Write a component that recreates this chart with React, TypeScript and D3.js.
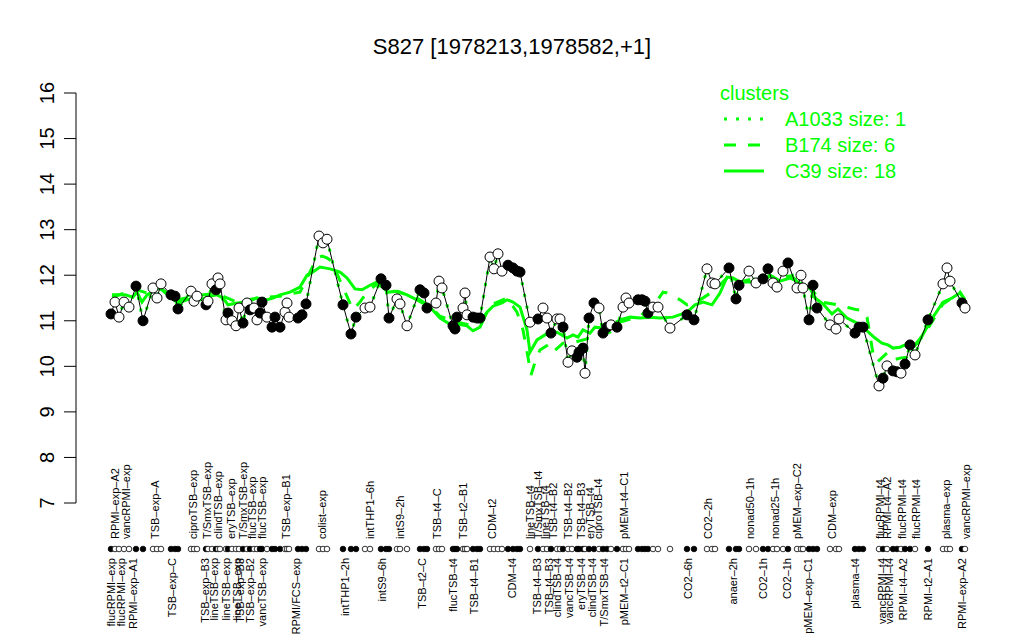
import React from 'react';
import * as d3 from 'd3';

const sampleX = [2.2,3.0,3.8,4.8,5.8,7.2,8.6,10.6,11.4,12.2,14.2,15.0,15.6,18.2,18.8,19.4,21.2,21.6,22.4,23.2,23.6,24.0,25.2,25.6,26.4,27.2,27.8,28.6,29.4,30.0,30.8,31.4,32.0,32.4,33.4,34.4,35.0,36.0,37.0,37.4,37.8,39.6,40.4,41.2,43.8,44.6,45.4,48.6,50.2,51.2,53.0,54.0,56.2,57.2,57.8,59.4,60.0,61.4,64.0,64.8,65.4,67.2,67.8,68.4,70.6,71.0,71.4,72.6,73.0,73.4,74.6,75.4,76.0,78.0,78.8,79.6,80.4,81.6,82.6,83.4,84.0,86.0,87.6,88.6,89.4,90.2,91.4,92.0,92.6,93.6,94.4,95.4,95.8,96.6,97.0,97.8,98.8,99.8,100.6,101.4,102.2,103.4,104.6,105.2,105.8,107.6,108.4,109.0,109.6,110.6,111.6,114.0,117.4,118.8,121.4,122.4,123.0,125.8,127.2,127.8,129.8,131.2,132.6,133.6,134.6,135.4,136.6,137.6,139.4,140.2,140.6,141.8,142.6,143.4,146.0,147.2,147.8,151.0,151.8,152.6,155.8,156.6,157.4,158.6,159.4,160.2,161.0,162.0,163.0,165.6,168.6,169.4,170.0,172.4,173.0];
const sampleY = [11.15,11.41,11.08,11.41,11.30,11.76,11.00,11.72,11.50,11.81,11.57,11.54,11.26,11.65,11.43,11.54,11.35,11.43,11.81,11.68,11.94,11.81,11.02,11.17,11.00,10.89,11.28,10.95,11.39,11.24,11.28,11.02,11.17,11.41,11.08,10.86,11.08,10.86,11.19,11.39,11.08,11.06,11.13,11.37,12.86,12.71,12.79,11.35,10.71,11.08,11.28,11.30,11.92,11.78,11.06,11.48,11.37,10.89,11.68,11.61,11.28,11.39,11.87,11.72,10.89,10.82,11.08,11.28,11.61,11.13,11.08,11.06,11.06,12.40,12.14,12.47,12.09,12.22,12.16,12.09,12.07,10.97,11.04,11.28,11.06,10.73,11.04,11.04,10.86,10.09,10.34,10.20,10.31,10.40,9.85,11.06,11.39,11.28,10.73,10.86,10.91,10.86,11.30,11.50,11.39,11.46,11.46,11.43,11.17,11.30,11.30,10.84,11.13,11.02,12.14,11.83,11.81,12.16,11.48,11.78,12.09,11.83,11.92,12.14,11.83,11.74,12.09,12.27,11.72,12.00,11.72,11.02,11.78,11.28,10.91,10.82,11.04,10.73,10.86,10.86,9.57,9.74,10.01,9.90,9.88,9.85,10.05,10.47,10.25,11.02,11.81,12.16,11.87,11.39,11.28];
const sampleFilled = [1,0,0,0,0,1,1,0,0,0,1,1,1,0,0,0,1,0,0,1,0,0,0,1,0,0,0,1,0,1,0,0,1,1,0,1,1,1,0,0,0,1,1,1,0,0,0,1,1,1,0,0,1,1,1,0,0,0,1,1,1,0,0,0,1,1,1,0,0,0,1,1,1,0,0,0,0,1,1,1,1,0,1,0,0,1,0,0,1,0,0,1,1,1,0,1,1,0,1,1,0,1,0,0,0,1,1,1,1,0,0,0,1,1,0,0,0,1,1,1,0,0,1,1,0,0,0,1,0,0,0,1,1,1,0,0,0,1,1,1,0,1,0,1,1,0,1,1,0,1,0,0,0,1,0];

const c39X = [2.4,5.0,6.6,7.4,8.4,9.4,10.4,11.4,12.4,14.0,15.6,17.4,18.6,20.0,22.0,23.4,24.6,25.6,27.4,29.4,31.4,33.4,34.6,36.0,38.0,40.0,41.4,42.6,44.0,46.0,48.0,49.4,51.0,52.4,54.0,55.4,57.6,59.6,61.4,63.4,66.0,68.0,69.6,71.4,73.4,74.6,76.0,77.4,78.6,80.4,81.4,82.6,84.0,85.4,86.0,87.4,89.0,90.0,91.4,93.4,94.6,95.6,96.6,98.0,99.0,100.4,102.0,104.0,106.0,108.0,110.0,112.0,114.6,117.4,119.0,120.6,122.4,124.0,125.4,126.6,128.0,130.6,133.4,134.0,136.0,138.0,140.0,142.0,143.0,144.6,146.4,147.6,149.4,151.4,153.4,155.0,156.4,157.6,158.6,160.0,161.0,162.0,163.6,165.4,166.6,168.6,170.4,172.0,173.0];
const c39Y = [11.57,11.57,11.52,11.63,11.41,11.57,11.63,11.72,11.68,11.52,11.39,11.46,11.50,11.46,11.54,11.57,11.50,11.35,11.39,11.41,11.50,11.46,11.50,11.57,11.63,11.74,12.00,12.07,12.18,12.14,12.07,11.94,11.70,11.68,11.78,11.85,11.63,11.65,11.57,11.46,11.30,11.06,10.95,10.93,10.89,10.78,10.86,11.19,11.32,11.39,11.46,11.41,11.30,10.80,10.31,10.58,10.69,10.75,10.75,10.62,10.69,10.64,10.80,10.73,10.86,10.84,10.89,11.02,11.08,11.06,11.08,11.06,11.08,11.19,11.35,11.41,11.35,11.61,11.96,11.94,11.85,11.85,11.94,12.00,11.87,11.94,11.83,11.72,11.50,11.37,11.15,11.26,11.06,10.95,10.78,10.62,10.51,10.47,10.40,10.42,10.47,10.40,10.51,10.86,11.08,11.41,11.50,11.61,11.46];

const b174X = [2.4,5.0,7.4,9.4,11.4,14.0,15.6,18.6,22.0,24.6,27.4,31.4,36.0,40.0,42.0,43.4,44.4,45.4,46.6,47.6,49.0,50.6,52.0,53.4,55.4,57.6,59.6,63.4,66.0,68.0,71.4,74.6,76.0,78.6,81.4,83.4,84.6,85.6,86.2,87.0,88.0,89.6,90.6,92.6,95.0,98.0,100.0,102.0,104.0,108.0,111.0,112.6,113.4,116.0,117.4,120.0,122.4,123.4,125.4,128.0,132.0,138.0,140.0,142.4,144.4,147.6,150.0,151.4,152.6,153.4,154.6,155.4,157.4,158.6,160.0,161.4,163.0,165.4,168.6,170.4,172.0,173.0];
const b174Y = [11.52,11.61,11.68,11.61,11.76,11.57,11.46,11.54,11.59,11.54,11.41,11.50,11.54,11.63,12.07,12.38,12.42,12.38,12.29,11.98,11.63,11.24,11.41,11.63,11.81,11.68,11.63,11.50,11.32,11.10,10.97,10.89,10.97,11.37,11.50,11.19,10.80,10.20,9.81,10.09,10.36,10.47,10.31,10.51,10.53,10.62,10.69,10.75,10.97,11.10,11.37,11.63,11.61,11.46,11.35,11.46,11.63,11.72,11.94,11.85,11.96,11.98,11.85,11.68,11.41,11.35,11.28,11.24,11.24,11.08,10.29,10.09,10.29,10.14,10.18,10.20,10.47,10.80,11.37,11.50,11.63,11.46];

const topLabels = ["RPMI\u2013exp\u2013A2","vancRPMI\u2013exp","TSB\u2013exp\u2013A","ciproTSB\u2013exp","T/SmxTSB\u2013exp","clindTSB\u2013exp","eryTSB\u2013exp","T/SmxTSB\u2013exp","flucTSB\u2013exp","flucTSB\u2013exp","TSB\u2013exp\u2013B1","colist\u2013exp","intTHP1\u20136h","intS9\u20132h","TSB\u2013t4\u2013C","TSB\u2013t2\u2013B1","CDM\u2013t2","lineTSB\u2013t4","T/SmxTSB\u2013t4","lineTSB\u2013t4","TSB\u2013t4\u2013B2","TSB\u2013t4\u2013B2","TSB\u2013t4\u2013B3","eryTSB\u2013t4","ciproTSB\u2013t4","pMEM\u2013t4\u2013C1","CO2\u20132h","nonad50\u20131h","nonad25\u20131h","pMEM\u2013exp\u2013C2","CDM\u2013exp","flucRPMI\u2013t4","RPMI\u2013t4\u2013A2","flucRPMI\u2013t4","flucRPMI\u2013t4","plasma\u2013exp","vancRPMI\u2013exp"];
const topLabelX = [3.0,5.2,11.0,18.6,21.4,23.6,26.2,28.6,30.4,32.4,37.2,44.4,54.0,60.0,67.4,72.6,78.4,86.0,87.6,89.0,90.6,93.6,96.2,98.0,99.6,104.8,121.6,130.0,135.0,139.4,146.4,156.0,157.4,160.4,163.2,169.2,173.2];
const bottomLabels = ["flucRPMI\u2013exp","flucRPMI\u2013exp","RPMI\u2013exp\u2013A1","TSB\u2013exp\u2013C","TSB\u2013exp\u2013B3","lineTSB\u2013exp","lineTSB\u2013exp","lineTSB\u2013exp","TSB\u2013exp\u2013B3","TSB\u2013exp\u2013B2","vancTSB\u2013exp","RPMI/FCS\u2013exp","intTHP1\u20132h","intS9\u20136h","TSB\u2013t2\u2013C","flucTSB\u2013t4","TSB\u2013t4\u2013B1","CDM\u2013t4","TSB\u2013t4\u2013B3","TSB\u2013t4\u2013B3","clindTSB\u2013t4","vancTSB\u2013t4","eryTSB\u2013t4","clindTSB\u2013t4","T/SmxTSB\u2013t4","pMEM\u2013t2\u2013C1","CO2\u20136h","anaer\u20132h","CO2\u20131h","CO2\u20131h","pMEM\u2013exp\u2013C1","plasma\u2013t4","vancRPMI\u2013t4","vancRPMI\u2013t4","RPMI\u2013t4\u2013A2","RPMI\u2013t2\u2013A1","RPMI\u2013exp\u2013A2"];
const bottomLabelX = [2.2,4.2,6.6,14.4,21.0,22.8,25.2,27.4,28.0,30.0,32.4,39.2,49.0,56.4,64.4,70.6,74.8,82.4,87.4,89.8,91.4,93.8,96.2,98.4,100.8,104.8,117.6,126.6,132.6,137.4,141.6,151.0,156.4,157.8,160.6,165.6,172.4];

const yTicks = [7, 8, 9, 10, 11, 12, 13, 14, 15, 16];
const legendTitle = "clusters";
const legendLabels = ["A1033 size: 1", "B174 size: 6", "C39 size: 18"];
const legendDash = ["3 9", "12 12", ""];
const title = "S827 [1978213,1978582,+1]";

const GREEN = "#00ff00";
const FONT = "'Liberation Sans', Arial, Helvetica, sans-serif";

export default function App() {
  const x = d3.scaleLinear().domain([0, 176]).range([100, 980]);
  const y = d3.scaleLinear().domain([7, 16]).range([503, 93]);
  const rowY = 549;

  const line = d3.line<[number, number]>().x(d => x(d[0])).y(d => y(d[1]));
  const data: [number, number][] = sampleX.map((v, i) => [v, sampleY[i]]);
  const c39: [number, number][] = c39X.map((v, i) => [v, c39Y[i]]);
  const b174: [number, number][] = b174X.map((v, i) => [v, b174Y[i]]);

  return (
    <svg width={1024} height={640} style={{ position: 'absolute', left: 0, top: 0, background: '#fff' }} fontFamily={FONT}>
      <rect width={1024} height={640} fill="#fff" />
      <text x={512} y={54} textAnchor="middle" fontSize={22}>{title}</text>

      {/* y axis */}
      <line x1={76} x2={76} y1={y(7)} y2={y(16)} stroke="#000" />
      {yTicks.map(t => (
        <g key={t}>
          <line x1={64} x2={76} y1={y(t)} y2={y(t)} stroke="#000" />
          <text transform={`translate(54,${y(t)}) rotate(-90)`} textAnchor="middle" fontSize={20}>{t}</text>
        </g>
      ))}

      {/* cluster lines */}
      <path d={line(c39) || ''} fill="none" stroke={GREEN} strokeWidth={3} />
      <path d={line(b174) || ''} fill="none" stroke={GREEN} strokeWidth={3} strokeDasharray="12 12" />
      <path d={line(data) || ''} fill="none" stroke={GREEN} strokeWidth={3} strokeDasharray="3 9" />

      {/* data line & points */}
      <path d={line(data) || ''} fill="none" stroke="#000" strokeWidth={1} />
      {data.map((d, i) => (
        <circle key={i} cx={x(d[0])} cy={y(d[1])} r={5} fill={sampleFilled[i] ? '#000' : '#fff'} stroke="#000" strokeWidth={1} />
      ))}

      {/* sample row */}
      {sampleX.map((v, i) => (
        <circle key={'r' + i} cx={x(v)} cy={rowY} r={2.8} fill={sampleFilled[i] ? '#000' : '#fff'} stroke="#000" strokeWidth={0.8} />
      ))}

      {topLabels.map((l, i) => (
        <text key={'t' + i} transform={`translate(${x(topLabelX[i])},539) rotate(-90)`} dy="0.35em" textAnchor="start" fontSize={11}>{l}</text>
      ))}
      {bottomLabels.map((l, i) => (
        <text key={'b' + i} transform={`translate(${x(bottomLabelX[i])},558) rotate(-90)`} dy="0.35em" textAnchor="end" fontSize={11}>{l}</text>
      ))}

      {/* legend */}
      <text x={720} y={100} fontSize={20} fill={GREEN}>{legendTitle}</text>
      {legendLabels.map((l, i) => (
        <g key={'l' + i}>
          <line x1={724} x2={764} y1={119 + i * 26} y2={119 + i * 26} stroke={GREEN} strokeWidth={3} strokeDasharray={legendDash[i] || undefined} />
          <text x={785} y={126 + i * 26} fontSize={20} fill={GREEN}>{l}</text>
        </g>
      ))}
    </svg>
  );
}
